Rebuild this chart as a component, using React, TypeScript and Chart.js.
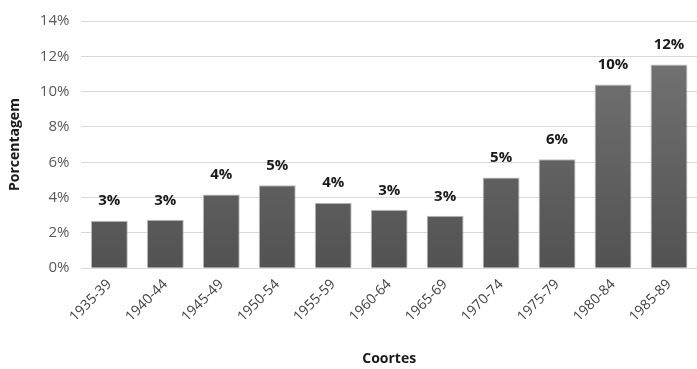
import React, { useEffect, useRef } from "react";
import { Chart, registerables } from "chart.js";

Chart.register(...registerables);

const categories = ["1935-39", "1940-44", "1945-49", "1950-54", "1955-59", "1960-64", "1965-69", "1970-74", "1975-79", "1980-84", "1985-89"];
const values = [2.69, 2.74, 4.17, 4.69, 3.71, 3.31, 2.97, 5.14, 6.17, 10.4, 11.54];
const valueLabels = ["3%", "3%", "4%", "5%", "4%", "3%", "3%", "5%", "6%", "10%", "12%"];
const yTitle = "Porcentagem";
const xTitle = "Coortes";

const FONT = "'Open Sans', 'Liberation Sans', sans-serif";

const labelPlugin = {
  id: "valueLabels",
  afterDatasetsDraw(chart: any) {
    const ctx = chart.ctx;
    const meta = chart.getDatasetMeta(0);
    ctx.save();
    ctx.font = `bold 15px ${FONT}`;
    ctx.fillStyle = "#1a1a1a";
    ctx.textAlign = "center";
    ctx.textBaseline = "bottom";
    meta.data.forEach((bar: any, i: number) => {
      ctx.fillText(valueLabels[i], bar.x, bar.y - 12);
    });
    ctx.restore();
  },
};

export default function App() {
  const ref = useRef<HTMLCanvasElement>(null);
  useEffect(() => {
    const canvas = ref.current!;
    const ctx = canvas.getContext("2d")!;
    const chart = new Chart(ctx, {
      type: "bar",
      data: {
        labels: categories,
        datasets: [
          {
            data: values,
            backgroundColor: (c: any) => {
              const area = c.chart.chartArea;
              if (!area) return "#606060";
              const g = c.chart.ctx.createLinearGradient(0, area.top, 0, area.bottom);
              g.addColorStop(0, "#777777");
              g.addColorStop(1, "#525252");
              return g;
            },
            borderColor: "#bdbdbd",
            borderWidth: 1,
            categoryPercentage: 1,
            barPercentage: 0.66,
          },
        ],
      },
      options: {
        responsive: false,
        animation: false,
        devicePixelRatio: 1,
        layout: { padding: { top: 8, right: 0, left: 7, bottom: 2 } },
        plugins: {
          legend: { display: false },
          tooltip: { enabled: false },
        },
        scales: {
          x: {
            grid: { display: false, drawTicks: false },
            border: { display: true, color: "#d9d9d9" },
            ticks: {
              maxRotation: 45,
              minRotation: 45,
              color: "#404040",
              padding: 8,
              font: { family: FONT, size: 14 },
            },
            title: {
              display: true,
              text: xTitle,
              color: "#1a1a1a",
              font: { family: FONT, size: 14, weight: "bold" },
              padding: { top: 17, bottom: 0 },
            },
          },
          y: {
            min: 0,
            max: 14,
            grid: { color: "#d9d9d9", drawTicks: false },
            border: { display: false },
            ticks: {
              stepSize: 2,
              color: "#595959",
              padding: 12,
              font: { family: FONT, size: 15 },
              callback: (v: any) => `${v}%`,
            },
            title: {
              display: true,
              text: yTitle,
              color: "#1a1a1a",
              font: { family: FONT, size: 14, weight: "bold" },
              padding: { top: 0, bottom: 4 },
            },
          },
        },
      },
      plugins: [labelPlugin],
    });
    return () => chart.destroy();
  }, []);
  return (
    <div style={{ position: "fixed", left: 0, top: 0, width: 697, height: 369, background: "#fff" }}>
      <canvas ref={ref} width={697} height={369} style={{ width: 697, height: 369 }} />
    </div>
  );
}
